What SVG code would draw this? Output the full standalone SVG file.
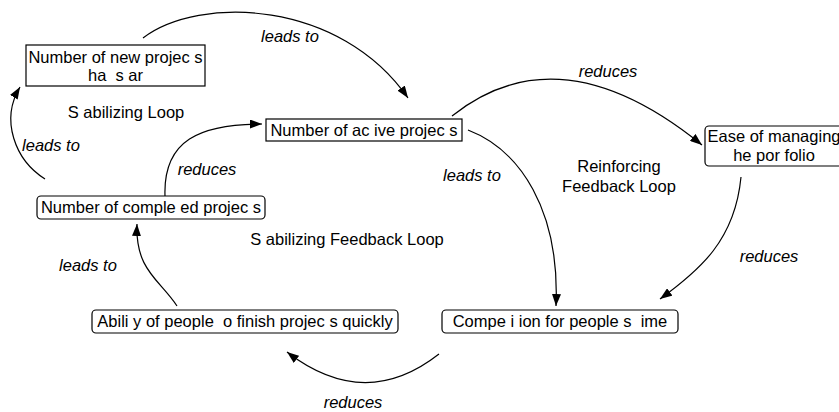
<svg xmlns="http://www.w3.org/2000/svg" width="839" height="412" viewBox="0 0 839 412">
<style>
  text { font-family: "Liberation Sans", Arial, sans-serif; font-size: 16.5px; fill: #000; }
  .lbl { font-style: italic; }
  .box { fill: #fff; stroke: #000; stroke-width: 1.2; }
  .edge { fill: none; stroke: #000; stroke-width: 1.2; marker-end: url(#arr); }
</style>
<defs>
  <marker id="arr" markerUnits="userSpaceOnUse" viewBox="0 0 12 9" refX="12" refY="4.5" markerWidth="12" markerHeight="9" orient="auto">
    <path d="M0,0 L12,4.5 L0,9 Z" fill="#000"/>
  </marker>
</defs>
<g id="connectors">
  <path class="edge" d="M143,38 C200,-5 340,0 408,98"/>
  <path class="edge" d="M452,116 Q560,30 702,145"/>
  <path class="edge" d="M468,130 C520,150 560,210 556,306"/>
  <path class="edge" d="M741,177 C735,240 700,270 660,299"/>
  <path class="edge" d="M439,354 Q365,412 287,352"/>
  <path class="edge" d="M177,306 C160,280 135,270 137,224"/>
  <path class="edge" d="M165,196 C163,140 200,124 262,124"/>
  <path class="edge" d="M45,179 C15,160 0,120 20,87"/>
</g>
<g id="labels">
  <text class="lbl" x="290" y="42" text-anchor="middle">leads to</text>
  <text class="lbl" x="608" y="77" text-anchor="middle">reduces</text>
  <text x="126" y="118" text-anchor="middle" xml:space="preserve">S abilizing Loop</text>
  <text class="lbl" x="51" y="151" text-anchor="middle">leads to</text>
  <text class="lbl" x="207" y="175" text-anchor="middle">reduces</text>
  <text x="619" y="172" text-anchor="middle">Reinforcing</text>
  <text x="619" y="192" text-anchor="middle">Feedback Loop</text>
  <text class="lbl" x="472" y="181" text-anchor="middle">leads to</text>
  <text x="347" y="245" text-anchor="middle" xml:space="preserve">S abilizing Feedback Loop</text>
  <text class="lbl" x="769" y="262" text-anchor="middle">reduces</text>
  <text class="lbl" x="88" y="271" text-anchor="middle">leads to</text>
  <text class="lbl" x="353" y="408" text-anchor="middle">reduces</text>
</g>
<g id="node-new-projects">
  <rect class="box" x="26" y="45" width="179" height="41"/>
  <text x="115.5" y="63" text-anchor="middle" xml:space="preserve">Number of new projec s</text>
  <text x="115.5" y="81" text-anchor="middle" xml:space="preserve">ha  s ar</text>
</g>
<g id="node-active-projects">
  <rect class="box" x="266" y="119" width="196" height="22"/>
  <text x="364" y="135.5" text-anchor="middle" xml:space="preserve">Number of ac ive projec s</text>
</g>
<g id="node-completed-projects">
  <rect class="box" x="37" y="196" width="228" height="23" rx="4"/>
  <text x="151" y="213" text-anchor="middle" xml:space="preserve">Number of comple ed projec s</text>
</g>
<g id="node-ability">
  <rect class="box" x="92" y="310" width="306" height="23" rx="4"/>
  <text x="245" y="327" text-anchor="middle" xml:space="preserve">Abili y of people  o finish projec s quickly</text>
</g>
<g id="node-competition">
  <rect class="box" x="442" y="310" width="236" height="23" rx="4"/>
  <text x="560" y="327" text-anchor="middle" xml:space="preserve">Compe i ion for people s  ime</text>
</g>
<g id="node-ease">
  <rect class="box" x="705" y="126" width="142" height="40" rx="4"/>
  <text x="774" y="142" text-anchor="middle" xml:space="preserve">Ease of managing</text>
  <text x="774" y="161" text-anchor="middle" xml:space="preserve">he por folio</text>
</g>
</svg>
